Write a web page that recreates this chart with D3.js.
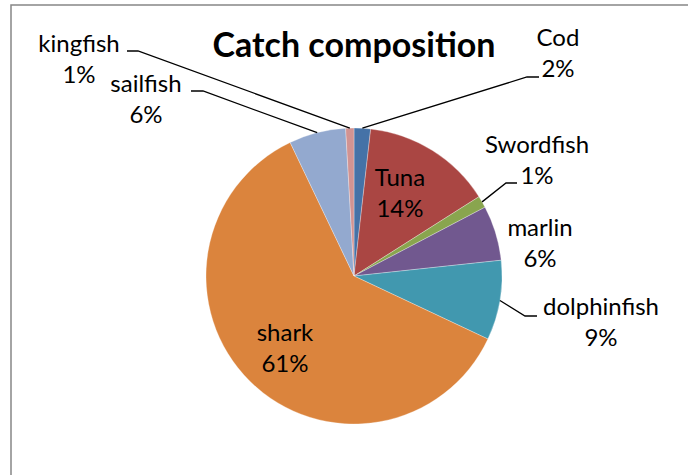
<!DOCTYPE html>
<html>
<head>
<meta charset="utf-8">
<script src="https://cdn.jsdelivr.net/npm/d3@7"></script>
<style>
  body { margin: 0; background: #fff; }
  text { font-family: Lato, "Open Sans", sans-serif; fill: #000; }
</style>
</head>
<body>
<svg id="chart"></svg>
<script>
const width = 688;
const height = 475;

// DATA
const species = ['Cod', 'Tuna', 'Swordfish', 'marlin', 'dolphinfish', 'shark', 'sailfish', 'kingfish'];
const catchShare = [1.8, 14.2, 1.3, 6.0, 8.7, 60.9, 6.2, 0.9];
const sliceColors = ['#4572A7', '#AA4643', '#89A54E', '#71588F', '#4198AF', '#DB843D', '#93A9CF', '#D19392'];

// label placement (text centre x, first baseline y, leader elbow, leader end)
const labelLayout = {
  'Cod':         {x: 558, y: 46,  elbow: [527, 77],  end: [539, 77]},
  'Tuna':        {x: 400, y: 186},
  'Swordfish':   {x: 537, y: 153, elbow: [506, 183], end: [517, 183]},
  'marlin':      {x: 540, y: 236},
  'dolphinfish': {x: 601, y: 315, elbow: [525, 316], end: [537, 316]},
  'shark':       {x: 285, y: 341},
  'sailfish':    {x: 146, y: 92,  elbow: [203, 91],  end: [191, 91]},
  'kingfish':    {x: 79,  y: 52,  elbow: [138, 51],  end: [127, 51]}
};

const cx = 354;
const cy = 276;
const radius = 148;
const lineGap = 31;

const total = d3.sum(catchShare);
const data = species.map((name, i) => ({name, value: catchShare[i]}));

// SCALES
const color = d3.scaleOrdinal().domain(species).range(sliceColors);

const pie = d3.pie().value(d => d.value).sort(null);
const arc = d3.arc().innerRadius(0).outerRadius(radius);

const svg = d3.select('#chart')
  .attr('width', width)
  .attr('height', height);

// FRAME
svg.append('rect')
  .attr('x', 11)
  .attr('y', 5)
  .attr('width', 720)
  .attr('height', 520)
  .attr('fill', 'none')
  .attr('stroke', '#878787')
  .attr('stroke-width', 1.5);

const g = svg.append('g').attr('transform', `translate(${cx}, ${cy})`);
const arcs = pie(data);

// SLICES
g.selectAll('path.slice')
  .data(arcs)
  .enter()
  .append('path')
    .attr('class', 'slice')
    .attr('d', arc)
    .attr('fill', d => color(d.data.name))
    .attr('stroke', '#fff')
    .attr('stroke-width', 0.5)
    .attr('stroke-opacity', 0.6);

// LEADER LINES
const withLeader = arcs.filter(d => labelLayout[d.data.name].elbow);
svg.selectAll('polyline.leader')
  .data(withLeader)
  .enter()
  .append('polyline')
    .attr('class', 'leader')
    .attr('fill', 'none')
    .attr('stroke', '#000')
    .attr('stroke-width', 1.3)
    .attr('points', d => {
      const a = (d.startAngle + d.endAngle) / 2;
      const p = [cx + radius * Math.sin(a), cy - radius * Math.cos(a)];
      const l = labelLayout[d.data.name];
      return [p, l.elbow, l.end].map(q => q.join(',')).join(' ');
    });

// LABELS
const labels = svg.selectAll('text.label')
  .data(arcs)
  .enter()
  .append('text')
    .attr('class', 'label')
    .attr('text-anchor', 'middle')
    .style('font-size', '24px');

labels.append('tspan')
  .attr('x', d => labelLayout[d.data.name].x)
  .attr('y', d => labelLayout[d.data.name].y)
  .text(d => d.data.name);

labels.append('tspan')
  .attr('x', d => labelLayout[d.data.name].x)
  .attr('y', d => labelLayout[d.data.name].y + lineGap)
  .text(d => Math.round(d.data.value / total * 100) + '%');

// TITLE
svg.append('text')
  .attr('x', cx)
  .attr('y', 57)
  .attr('text-anchor', 'middle')
  .style('font-size', '34px')
  .style('font-weight', 'bold')
  .text('Catch composition');
</script>
</body>
</html>
